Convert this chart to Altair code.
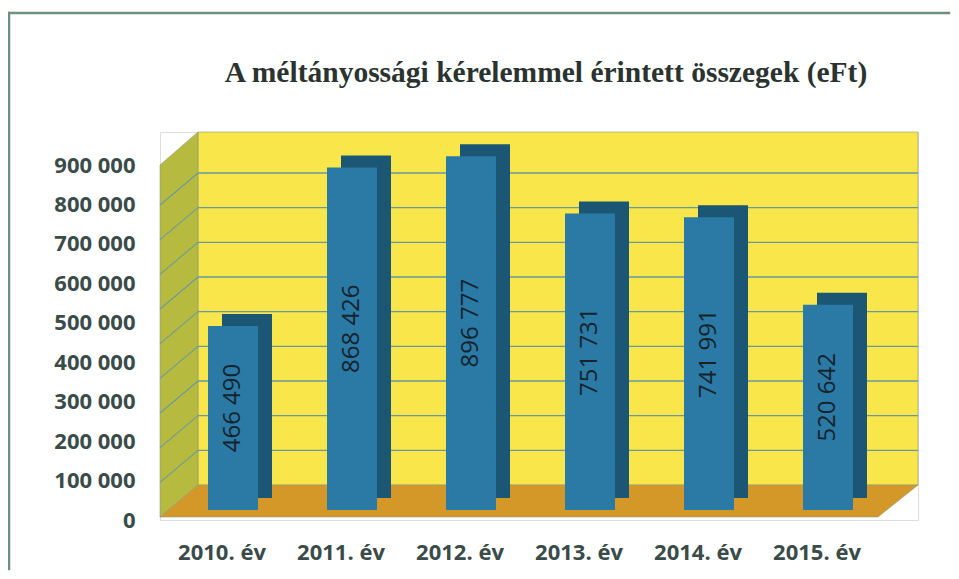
import altair as alt
import pandas as pd

# ---- data ----
years = ["2010. év", "2011. év", "2012. év", "2013. év", "2014. év", "2015. év"]
values = [466490, 868426, 896777, 751731, 741991, 520642]
value_labels = ["466 490", "868 426", "896 777", "751 731", "741 991", "520 642"]
tick_values = [0, 100000, 200000, 300000, 400000, 500000, 600000, 700000, 800000, 900000]
grid_values = tick_values[1:]
TITLE = "A méltányossági kérelemmel érintett összegek (eFt)"

# ---- layout / style ----
W, H = 758, 388
FRONT_TOP = H / 355 * 900000          # front (label) scale
K = 312 / 900000                       # back-wall scale px per unit
BACK_DOMAIN = [-(H - 353) / K, 353 / K]

FRONT = "#2b7aa6"
SIDE = "#1c5675"
YELLOW = "#f8e64a"
OLIVE = "#b6ba3e"
FLOOR = "#d49828"
GRID = "#6a9aa0"
BORDER = "#5e8c88"
AXIS_TXT = "#3a4b49"
BAR_TXT = "#15242c"

df = pd.DataFrame({"year": years, "value": values, "label": value_labels})
grid_df = pd.DataFrame({"tick": grid_values})
one = pd.DataFrame({"k": [0]})

xscale = alt.Scale(domain=years, paddingInner=0.5798, paddingOuter=0.4748, align=0.4248)
yfront = alt.Scale(domain=[0, FRONT_TOP], nice=False, zero=True)
yback = alt.Scale(domain=BACK_DOMAIN, nice=False, zero=False)

x_axis = alt.Axis(labelAngle=0, labelOffset=-11, labelPadding=22, domain=False,
                  ticks=False, grid=False, labelFont="Open Sans", labelFontWeight="bold",
                  labelFontSize=22, labelColor=AXIS_TXT)
X = alt.X("year:N", scale=xscale, sort=years, title=None, axis=x_axis)


def shape_layer(path, color):
    return alt.Chart(one).mark_point(
        shape=path, size=4, filled=True, opacity=1, color=color,
        stroke="#8f9a80", strokeWidth=0.6
    ).encode(x=alt.value(0), y=alt.value(0))


back_wall = shape_layer("M38,0L758,0L758,353L38,353Z", YELLOW)
side_wall = shape_layer("M0,33L38,0L38,353L0,385Z", OLIVE)
floor = shape_layer("M0,385L38,353L758,353L718,385Z", FLOOR)

# page frame (top and left edges only) drawn as thin filled strips
frame_top = shape_layer("M-152,-120L790,-120L790,-118L-152,-118Z", BORDER)
frame_left = shape_layer("M-152,-120L-150,-120L-150,438L-152,438Z", BORDER)

grid_back = alt.Chart(grid_df).mark_rule(color=GRID, strokeWidth=1.3).encode(
    x=alt.value(38), x2=alt.value(758),
    y=alt.Y("tick:Q", scale=yback, axis=None),
)
grid_side = alt.Chart(grid_df).mark_rule(color=GRID, strokeWidth=1.1, yOffset=32).encode(
    x=alt.value(0), x2=alt.value(38),
    y=alt.Y("tick:Q", scale=yback, axis=None), y2="tick:Q",
)

side = alt.Chart(df).mark_bar(color=SIDE, xOffset=14, yOffset=-22, y2Offset=-22).encode(
    x=X,
    y=alt.Y("value:Q", scale=yfront, axis=None),
)

front = alt.Chart(df).mark_bar(color=FRONT, yOffset=-10, y2Offset=-10).encode(
    x=X,
    y=alt.Y("value:Q", scale=yfront, title=None,
            axis=alt.Axis(values=tick_values, labelExpr="replace(format(datum.value, ','), ',', ' ')",
                          domain=False, ticks=False, grid=False, labelPadding=25,
                          labelFont="Open Sans", labelFontWeight="bold", labelFontSize=22,
                          labelColor=AXIS_TXT)),
)

text = alt.Chart(df).transform_calculate(mid="datum.value / 2").mark_text(
    angle=270, font="Open Sans", fontSize=24, color=BAR_TXT, yOffset=-20,
    align="center", baseline="middle"
).encode(
    x=X,
    y=alt.Y("mid:Q", scale=yfront, axis=None),
    text="label:N",
)

title = alt.Chart(one).mark_text(
    font="Liberation Serif", fontWeight="bold", fontSize=29.5, color="#2a332f",
    align="center", baseline="alphabetic"
).encode(x=alt.value(386), y=alt.value(-50), text=alt.value(TITLE))

chart = alt.layer(
    back_wall, side_wall, floor, grid_back, grid_side, side, front, text,
    frame_top, frame_left, title
).resolve_scale(y="independent").properties(
    width=W, height=H,
    autosize=alt.AutoSizeParams(type="none"),
    padding={"left": 152, "top": 124, "right": 33, "bottom": 51},
).configure_view(stroke=None).configure(background="white")

chart.save("out.html", embed_options={"renderer": "svg", "actions": False})
